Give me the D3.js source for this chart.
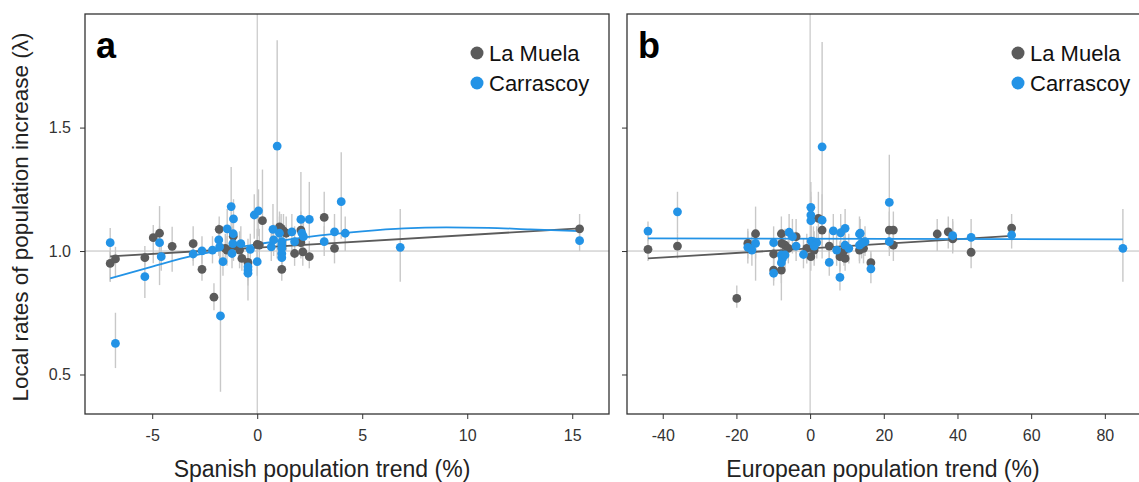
<!DOCTYPE html>
<html>
<head>
<meta charset="utf-8">
<script src="https://cdn.jsdelivr.net/npm/d3@7"></script>
<style>
  body { margin: 0; background: #fff; }
  svg { display: block; font-family: "Liberation Sans", Arial, sans-serif; }
</style>
</head>
<body>
<div id="chart"></div>
<script>
// each point: [trend, lambda, lambdaLow, lambdaHigh]
const spainMuela = [
  [-7.0, 0.950, 0.88, 1.00], [-6.75, 0.968, 0.896, 1.017], [-5.35, 0.973, 0.94, 1.02],
  [-4.95, 1.054, 0.951, 1.105], [-4.65, 1.072, 0.862, 1.182], [-4.05, 1.019, 0.916, 1.098],
  [-3.05, 1.030, 0.96, 1.10], [-2.63, 0.926, 0.88, 0.98], [-2.06, 0.813, 0.76, 0.87],
  [-1.81, 1.088, 1.03, 1.14], [-1.52, 1.011, 0.95, 1.07], [-1.44, 1.004, 0.94, 1.06],
  [-1.14, 1.060, 0.98, 1.13], [-1.13, 1.024, 0.96, 1.08], [-0.84, 1.004, 0.93, 1.08],
  [-0.73, 0.970, 0.92, 1.03], [-0.44, 0.954, 0.90, 1.01], [0.0, 1.027, 0.97, 1.09],
  [0.1, 1.024, 0.96, 1.09], [0.25, 1.123, 1.02, 1.33], [1.06, 1.098, 1.03, 1.16],
  [1.14, 1.092, 1.02, 1.15], [1.25, 1.082, 1.01, 1.15], [1.38, 1.072, 1.00, 1.14],
  [1.17, 0.926, 0.88, 0.98], [1.78, 0.990, 0.94, 1.05], [2.08, 1.085, 1.02, 1.16],
  [2.08, 1.034, 0.97, 1.10], [2.17, 0.997, 0.94, 1.06], [2.48, 0.977, 0.93, 1.04],
  [3.19, 1.136, 1.05, 1.24], [3.68, 1.011, 0.95, 1.07], [15.35, 1.090, 1.05, 1.15]
];
const spainCarrascoy = [
  [-7.0, 1.034, 0.875, 1.093], [-6.75, 0.626, 0.526, 0.75], [-5.35, 0.896, 0.81, 0.99],
  [-4.65, 1.034, 0.97, 1.10], [-4.57, 0.977, 0.92, 1.04], [-3.05, 0.988, 0.94, 1.05],
  [-2.63, 1.001, 0.95, 1.06], [-2.13, 1.004, 0.95, 1.06], [-1.75, 0.737, 0.43, 1.017],
  [-1.83, 1.045, 0.98, 1.11], [-1.79, 1.017, 0.96, 1.08], [-1.63, 0.957, 0.90, 1.02],
  [-1.43, 1.090, 1.01, 1.17], [-1.24, 1.180, 1.06, 1.34], [-1.13, 1.130, 1.05, 1.21],
  [-1.14, 1.070, 1.00, 1.14], [-1.2, 0.990, 0.93, 1.05], [-1.16, 1.030, 0.97, 1.10],
  [-0.78, 1.030, 0.97, 1.10], [-0.33, 1.007, 0.95, 1.07], [-0.44, 0.936, 0.80, 1.05],
  [-0.44, 0.923, 0.88, 0.98], [-0.44, 0.910, 0.86, 0.97], [0.0, 0.957, 0.90, 1.02],
  [-0.14, 1.146, 1.05, 1.23], [0.06, 1.163, 1.06, 1.25], [0.67, 1.017, 0.96, 1.08],
  [0.78, 1.045, 0.98, 1.11], [0.75, 1.088, 1.00, 1.19], [0.95, 1.425, 0.97, 1.854],
  [1.06, 1.072, 1.00, 1.14], [1.17, 1.038, 0.98, 1.10], [1.17, 1.024, 0.96, 1.09],
  [1.17, 1.011, 0.95, 1.08], [1.17, 0.990, 0.93, 1.05], [1.17, 0.973, 0.92, 1.03],
  [1.65, 1.078, 1.00, 1.15], [1.78, 1.038, 0.98, 1.10], [2.08, 1.128, 1.03, 1.32],
  [2.13, 1.072, 1.00, 1.14], [2.2, 1.058, 0.99, 1.13], [2.48, 1.128, 1.05, 1.28],
  [3.19, 1.038, 0.98, 1.10], [3.68, 1.078, 1.01, 1.15], [4.0, 1.200, 1.05, 1.40],
  [4.19, 1.072, 1.00, 1.14], [6.81, 1.015, 0.876, 1.17], [15.35, 1.042, 1.00, 1.09]
];
const europeMuela = [
  [-44.0, 1.007, 0.96, 1.06], [-36.0, 1.020, 0.97, 1.07], [-19.9, 0.808, 0.77, 0.86],
  [-16.9, 1.031, 0.97, 1.09], [-14.8, 1.070, 0.88, 1.18], [-9.9, 0.988, 0.93, 1.05],
  [-9.9, 0.923, 0.88, 0.98], [-7.8, 1.070, 1.00, 1.14], [-7.8, 0.923, 0.87, 0.98],
  [-7.7, 1.031, 0.97, 1.09], [-6.8, 1.024, 0.96, 1.09], [-5.9, 1.011, 0.95, 1.07],
  [-3.8, 1.058, 0.99, 1.13], [-0.9, 1.011, 0.95, 1.07], [0.2, 0.977, 0.92, 1.04],
  [1.1, 1.004, 0.94, 1.06], [2.25, 1.132, 1.04, 1.24], [3.26, 1.085, 1.02, 1.15],
  [5.2, 1.020, 0.96, 1.08], [8.1, 0.977, 0.92, 1.04], [9.5, 0.970, 0.92, 1.03],
  [9.2, 1.001, 0.94, 1.06], [13.4, 1.004, 0.95, 1.06], [14.5, 1.011, 0.95, 1.07],
  [16.5, 0.953, 0.91, 1.00], [21.5, 1.085, 1.01, 1.16], [22.6, 1.085, 1.01, 1.16],
  [22.6, 1.024, 0.96, 1.09], [34.5, 1.069, 1.00, 1.13], [37.5, 1.078, 1.01, 1.14],
  [38.7, 1.049, 0.99, 1.12], [43.7, 0.995, 0.93, 1.06], [54.7, 1.093, 1.04, 1.15]
];
const europeCarrascoy = [
  [-44.0, 1.081, 1.04, 1.12], [-36.0, 1.159, 1.07, 1.24], [-16.9, 1.015, 0.95, 1.08],
  [-15.8, 1.004, 0.94, 1.07], [-14.8, 1.031, 0.97, 1.09], [-9.9, 1.034, 0.97, 1.10],
  [-9.9, 0.910, 0.86, 0.97], [-7.8, 0.984, 0.93, 1.04], [-7.5, 0.970, 0.92, 1.03],
  [-7.8, 0.953, 0.80, 1.03], [-6.8, 0.984, 0.93, 1.05], [-5.7, 1.076, 1.00, 1.15],
  [-4.8, 1.058, 0.99, 1.13], [-3.8, 1.020, 0.96, 1.08], [-1.8, 0.986, 0.93, 1.05],
  [0.2, 1.177, 1.07, 1.28], [0.2, 1.146, 1.05, 1.24], [0.2, 1.123, 1.03, 1.22],
  [3.26, 1.125, 1.03, 1.23], [3.26, 1.422, 0.97, 1.847], [0.3, 1.040, 0.98, 1.10],
  [0.9, 1.038, 0.98, 1.10], [1.8, 1.034, 0.97, 1.10], [1.1, 1.020, 0.96, 1.08],
  [5.2, 0.954, 0.90, 1.01], [6.3, 1.082, 1.01, 1.15], [7.2, 1.004, 0.94, 1.07],
  [8.1, 0.893, 0.84, 0.95], [8.3, 1.074, 1.00, 1.15], [9.5, 1.092, 1.02, 1.17],
  [9.5, 1.024, 0.96, 1.09], [10.5, 1.011, 0.95, 1.07], [13.4, 1.069, 1.00, 1.14],
  [13.4, 1.024, 0.96, 1.09], [14.9, 1.038, 0.98, 1.10], [13.6, 1.072, 1.01, 1.13],
  [14.0, 1.031, 0.97, 1.09], [16.5, 0.928, 0.87, 0.99], [21.5, 1.197, 1.04, 1.39],
  [21.5, 1.038, 0.98, 1.10], [38.7, 1.062, 1.00, 1.13], [43.7, 1.055, 0.99, 1.13],
  [54.7, 1.065, 1.01, 1.12], [84.9, 1.011, 0.876, 1.17]
];

// fitted trend lines
const spainMuelaFit = [[-7.0, 0.978], [15.35, 1.092]];
const spainCarrascoyFit = [
  [-7.0, 0.889], [-5, 0.937], [-3, 0.982], [-1, 1.014], [1, 1.040], [3, 1.063],
  [5, 1.080], [7, 1.092], [9, 1.096], [11, 1.094], [13, 1.088], [15.35, 1.081]
];
const europeMuelaFit = [[-44.0, 0.970], [54.7, 1.061]];
const europeCarrascoyFit = [[-44.0, 1.051], [84.9, 1.047]];

const siteNames = ["La Muela", "Carrascoy"];
const siteColors = ["#5b5b5b", "#2393e6"];
const yTicks = [0.5, 1.0, 1.5];
const spainTicks = [-5, 0, 5, 10, 15];
const europeTicks = [-40, -20, 0, 20, 40, 60, 80];

const width = 1139, height = 482;
const plotTop = 14, plotBottom = 414;
const font = "Liberation Sans, Arial, sans-serif";

const svg = d3.select("#chart").append("svg")
  .attr("width", width)
  .attr("height", height);

const y = d3.scaleLinear().domain([0.34, 1.96]).range([plotBottom, plotTop]);

function panel(opts) {
  const x = d3.scaleLinear().domain(opts.domain).range([opts.left, opts.right]);
  const g = svg.append("g");

  // reference lines at lambda = 1 and trend = 0
  g.append("line")
    .attr("x1", opts.left).attr("x2", opts.frameRight)
    .attr("y1", y(1)).attr("y2", y(1))
    .attr("stroke", "#bdbdbd").attr("stroke-width", 1);
  g.append("line")
    .attr("x1", x(0)).attr("x2", x(0))
    .attr("y1", plotTop).attr("y2", plotBottom)
    .attr("stroke", "#bdbdbd").attr("stroke-width", 1);

  // error bars first, then fits, then dots
  opts.series.forEach(s => {
    g.selectAll(null)
      .data(s)
      .join("line")
      .attr("x1", d => x(d[0])).attr("x2", d => x(d[0]))
      .attr("y1", d => y(d[2])).attr("y2", d => y(d[3]))
      .attr("stroke", "#c8c8c8").attr("stroke-width", 1.4);
  });

  const line = d3.line().x(d => x(d[0])).y(d => y(d[1])).curve(d3.curveMonotoneX);
  opts.fits.forEach((f, i) => {
    g.append("path")
      .attr("d", line(f))
      .attr("fill", "none")
      .attr("stroke", siteColors[i])
      .attr("stroke-width", 1.8);
  });

  opts.series.forEach((s, i) => {
    g.selectAll(null)
      .data(s)
      .join("circle")
      .attr("cx", d => x(d[0]))
      .attr("cy", d => y(d[1]))
      .attr("r", 4.4)
      .attr("fill", siteColors[i]);
  });

  // x axis (plain hyphen minus, like the original)
  const xAxis = g.append("g")
    .attr("transform", `translate(0,${plotBottom})`)
    .call(d3.axisBottom(x).tickValues(opts.ticks).tickSize(5).tickPadding(11).tickFormat(d => String(d)));
  xAxis.select(".domain").remove();
  xAxis.selectAll("line").attr("stroke", "#333");
  xAxis.selectAll("text").attr("font-size", 16).attr("fill", "#333").attr("font-family", font);

  // y axis
  const yAxis = g.append("g")
    .attr("transform", `translate(${opts.left},0)`)
    .call(d3.axisLeft(y).tickValues(yTicks).tickSize(5).tickPadding(9)
      .tickFormat(opts.yLabels ? d3.format(".1f") : () => ""));
  yAxis.select(".domain").remove();
  yAxis.selectAll("line").attr("stroke", "#333");
  yAxis.selectAll("text").attr("font-size", 16).attr("fill", "#333").attr("font-family", font);

  // frame
  g.append("rect")
    .attr("x", opts.left).attr("y", plotTop)
    .attr("width", opts.frameRight - opts.left).attr("height", plotBottom - plotTop)
    .attr("fill", "none").attr("stroke", "#333").attr("stroke-width", 1.3);

  // panel letter
  g.append("text")
    .attr("x", opts.left + 11).attr("y", 58)
    .attr("font-size", 36).attr("font-weight", "bold").attr("fill", "#000")
    .text(opts.letter);

  // legend
  const leg = g.append("g").attr("transform", `translate(${opts.legendX},53)`);
  siteNames.forEach((n, i) => {
    leg.append("circle").attr("cx", 0).attr("cy", i * 30).attr("r", 6.5).attr("fill", siteColors[i]);
    leg.append("text").attr("x", 12).attr("y", i * 30).attr("dy", "0.35em")
      .attr("font-size", 22).attr("fill", "#111").text(n);
  });

  // x title
  g.append("text")
    .attr("x", opts.titleX).attr("y", 477)
    .attr("text-anchor", "middle").attr("font-size", 23).attr("fill", "#222")
    .text(opts.title);
}

panel({
  domain: [-8.2, 16.75], left: 85, right: 609, frameRight: 609, ticks: spainTicks, yLabels: true,
  series: [spainMuela, spainCarrascoy], fits: [spainMuelaFit, spainCarrascoyFit],
  letter: "a", legendX: 477, title: "Spanish population trend (%)", titleX: 322
});
panel({
  domain: [-49.7, 89.0], left: 627, right: 1138, frameRight: 1142, ticks: europeTicks, yLabels: false,
  series: [europeMuela, europeCarrascoy], fits: [europeMuelaFit, europeCarrascoyFit],
  letter: "b", legendX: 1018, title: "European population trend (%)", titleX: 883
});

// shared y title
svg.append("text")
  .attr("transform", `translate(28,${(plotTop + plotBottom) / 2 + 3}) rotate(-90)`)
  .attr("text-anchor", "middle").attr("font-size", 22.5).attr("fill", "#222")
  .text("Local rates of population increase (λ)");
</script>
</body>
</html>
